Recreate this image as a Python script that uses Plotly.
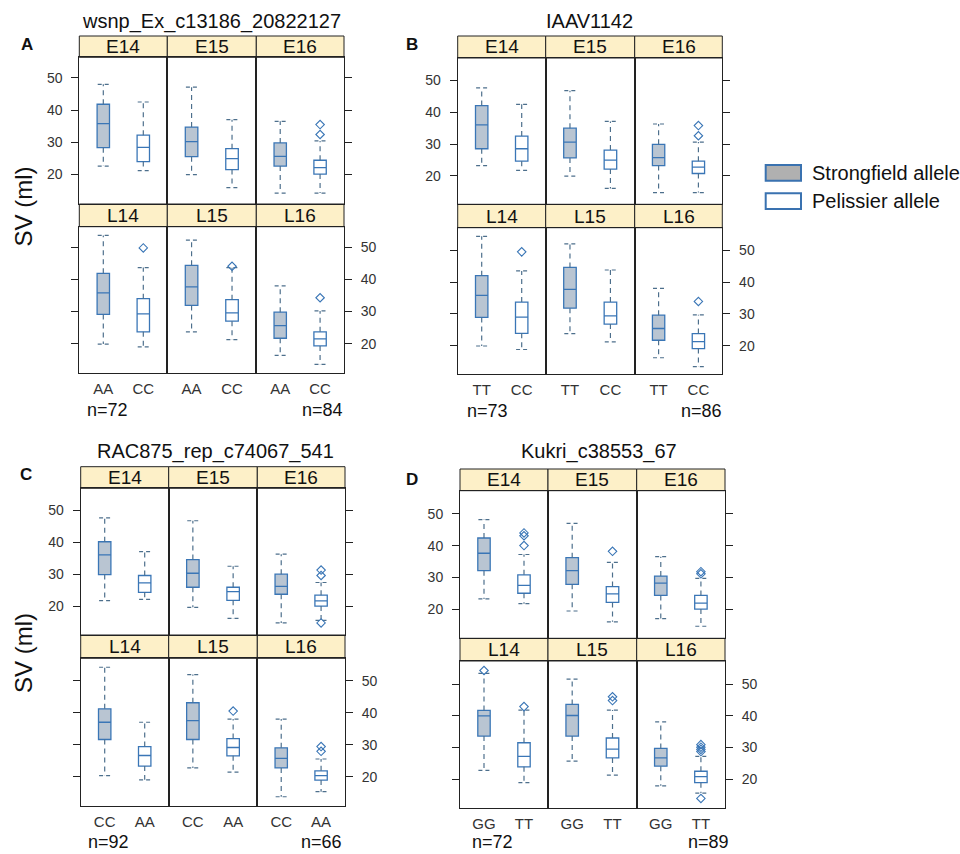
import plotly.graph_objects as go

# ---------------- data ----------------
ENVS = ["E14", "E15", "E16", "L14", "L15", "L16"]
ALLELES = ["Strongfield allele", "Pelissier allele"]
Y_TICKS = [20, 30, 40, 50]

# each box: [lower whisker, q1, median, q3, upper whisker], order E14,E15,E16,L14,L15,L16
A_TITLE = "wsnp_Ex_c13186_20822127"
A_GENO = ["AA", "CC"]
A_N = ["n=72", "n=84"]
A_STRONG = [[22.6, 28.3, 35.8, 41.8, 48.0],
            [19.9, 25.5, 30.2, 34.7, 47.1],
            [14.2, 22.6, 25.6, 29.8, 36.5],
            [19.9, 29.1, 35.8, 41.9, 53.7],
            [23.7, 31.9, 37.7, 44.4, 52.2],
            [16.4, 21.7, 25.6, 29.8, 38.0]]
A_PEL = [[21.2, 24.0, 28.4, 32.2, 42.5],
         [15.9, 21.5, 24.9, 28.0, 37.0],
         [14.2, 20.1, 22.1, 24.4, 30.4],
         [19.0, 23.7, 29.3, 34.0, 43.7],
         [21.3, 27.0, 29.6, 33.7, 43.7],
         [13.6, 19.3, 21.5, 23.7, 30.2]]
A_STRONG_OUT = [[], [], [], [], [], []]
A_PEL_OUT = [[], [], [35.5, 32.4], [49.8], [44.1], [34.3]]

B_TITLE = "IAAV1142"
B_GENO = ["TT", "CC"]
B_N = ["n=73", "n=86"]
B_STRONG = [[23.2, 28.5, 36.0, 42.1, 47.7],
            [19.9, 25.6, 30.6, 35.0, 46.8],
            [14.7, 23.2, 25.7, 29.9, 36.3],
            [19.9, 28.9, 35.8, 42.0, 54.4],
            [23.8, 31.8, 37.7, 44.6, 52.0],
            [16.2, 21.7, 25.4, 29.6, 38.0]]
B_PEL = [[21.7, 24.6, 28.5, 32.5, 42.5],
         [16.0, 22.1, 24.9, 28.1, 37.1],
         [14.7, 20.7, 22.7, 24.6, 30.6],
         [18.8, 23.9, 29.0, 33.7, 43.5],
         [21.2, 26.8, 29.4, 33.7, 43.8],
         [13.4, 19.1, 21.3, 23.8, 29.7]]
B_STRONG_OUT = [[], [], [], [], [], []]
B_PEL_OUT = [[], [], [35.8, 32.6], [49.5], [], [33.9]]

C_TITLE = "RAC875_rep_c74067_541"
C_GENO = ["CC", "AA"]
C_N = ["n=92", "n=66"]
C_STRONG = [[21.7, 29.9, 36.1, 40.2, 47.7],
            [19.6, 25.9, 30.3, 34.6, 46.8],
            [14.7, 23.7, 26.2, 30.0, 36.3],
            [20.3, 31.6, 37.0, 41.2, 54.2],
            [22.7, 31.6, 37.5, 43.1, 51.9],
            [13.7, 22.7, 25.7, 29.0, 38.0]]
C_PEL = [[22.1, 24.3, 27.3, 29.6, 37.1],
         [16.1, 21.8, 24.5, 25.9, 32.5],
         [15.5, 20.0, 21.6, 23.4, 27.4],
         [19.0, 23.3, 26.6, 29.4, 37.0],
         [21.4, 26.5, 29.1, 31.9, 38.0],
         [15.3, 18.9, 20.3, 21.8, 25.5]]
C_STRONG_OUT = [[], [], [], [], [], []]
C_PEL_OUT = [[], [], [31.3, 29.6, 14.7], [], [40.5], [29.4, 27.9]]

D_TITLE = "Kukri_c38553_67"
D_GENO = ["GG", "TT"]
D_N = ["n=72", "n=89"]
D_STRONG = [[23.2, 32.1, 37.6, 42.4, 48.2],
            [19.4, 27.8, 32.1, 36.2, 47.0],
            [17.0, 24.3, 28.2, 30.4, 36.5],
            [22.8, 33.6, 40.0, 41.7, 53.4],
            [25.7, 33.6, 40.1, 43.6, 51.6],
            [17.9, 24.1, 26.7, 29.7, 38.1]]
D_PEL = [[21.7, 25.0, 27.5, 30.8, 37.2],
         [16.0, 22.1, 24.8, 27.1, 34.7],
         [14.6, 20.0, 21.9, 24.3, 29.7],
         [18.9, 23.9, 27.2, 31.5, 41.8],
         [21.3, 26.7, 29.5, 33.0, 41.8],
         [15.6, 18.9, 20.8, 22.5, 27.2]]
D_STRONG_OUT = [[], [], [], [54.3], [], []]
D_PEL_OUT = [[44.0, 43.1, 40.0], [38.2], [31.8, 31.1], [42.9], [46.0, 44.8],
             [30.9, 30.1, 29.4, 28.7, 13.9]]

# ---------------- layout geometry (pixels) ----------------
W, H = 960, 854
FONT = "Liberation Sans, Arial, sans-serif"
PANELS = [
    dict(letter="A", title=A_TITLE, geno=A_GENO, n=A_N, strong=A_STRONG, pel=A_PEL,
         sout=A_STRONG_OUT, pout=A_PEL_OUT,
         gx=[79.3, 167.3, 256.3, 344.0], gy=[36.0, 57.3, 204.0, 226.7, 373.3],
         yr=[10.8, 56.4], tpos=(211.7, 21), lpos=(27, 45), npos=(86, 344, 410)),
    dict(letter="B", title=B_TITLE, geno=B_GENO, n=B_N, strong=B_STRONG, pel=B_PEL,
         sout=B_STRONG_OUT, pout=B_PEL_OUT,
         gx=[457.7, 545.7, 634.7, 722.3], gy=[36.0, 58.0, 204.3, 227.7, 374.3],
         yr=[11.0, 57.1], tpos=(589.2, 21), lpos=(412, 45), npos=(466, 723.3, 411)),
    dict(letter="C", title=C_TITLE, geno=C_GENO, n=C_N, strong=C_STRONG, pel=C_PEL,
         sout=C_STRONG_OUT, pout=C_PEL_OUT,
         gx=[80.7, 168.7, 257.3, 345.0], gy=[466.7, 488.3, 635.0, 658.3, 805.7],
         yr=[10.9, 57.0], tpos=(215, 451), lpos=(26, 475), npos=(87, 343, 842)),
    dict(letter="D", title=D_TITLE, geno=D_GENO, n=D_N, strong=D_STRONG, pel=D_PEL,
         sout=D_STRONG_OUT, pout=D_PEL_OUT,
         gx=[460.0, 548.0, 636.7, 725.0], gy=[469.0, 490.7, 638.3, 661.0, 808.3],
         yr=[10.8, 57.3], tpos=(598.8, 451), lpos=(412, 480), npos=(470.7, 730, 842)),
]

STRONG_FILL = "#b9c5d2"
PEL_FILL = "#ffffff"
BOX_LINE = "#3a76b6"
WHISK = "#4d6f8c"
STRIP = "#fdf0c8"
AX = "#222222"
BOX_W = 0.31
CAP = 0.14


def px(x):
    return x / W


def py(y):
    return 1 - y / H


fig = go.Figure()
layout = {}
shapes = []
ann = []
k = 0
for p in PANELS:
    gx, gy, yr = p["gx"], p["gy"], p["yr"]
    for ci, env in enumerate(ENVS):
        row, col = divmod(ci, 3)
        k += 1
        xr = "x" if k == 1 else f"x{k}"
        yrf = "y" if k == 1 else f"y{k}"
        x0, x1 = gx[col], gx[col + 1]
        if row == 0:
            s0, s1, p0, p1 = gy[0], gy[1], gy[1], gy[2]
        else:
            s0, s1, p0, p1 = gy[2], gy[3], gy[3], gy[4]
        layout["xaxis" if k == 1 else f"xaxis{k}"] = dict(
            domain=[px(x0), px(x1)], range=[0.4, 2.6], anchor=yrf,
            tickvals=[1, 2], ticktext=p["geno"], showticklabels=(row == 1),
            ticks="", showgrid=False, zeroline=False, showline=True, mirror=True,
            linecolor=AX, linewidth=1, tickfont=dict(size=15, color="#333333", family=FONT),
            ticklabelstandoff=2, fixedrange=True)
        yax = dict(
            domain=[py(p1), py(p0)], range=yr, anchor=xr, tickvals=Y_TICKS,
            showgrid=False, zeroline=False, showline=True, mirror=True,
            linecolor=AX, linewidth=1, tickfont=dict(size=14, color="#333333", family=FONT),
            fixedrange=True)
        if col == 0:
            yax.update(side="left", ticks="outside", ticklen=7, tickcolor=AX,
                       showticklabels=(row == 0), ticklabelstandoff=6)
        elif col == 2:
            yax.update(side="right", ticks="outside", ticklen=7, tickcolor=AX,
                       showticklabels=(row == 1), ticklabelstandoff=6)
        else:
            yax.update(ticks="", showticklabels=False)
        layout["yaxis" if k == 1 else f"yaxis{k}"] = yax

        # strip
        shapes.append(dict(type="rect", xref="paper", yref="paper",
                           x0=px(x0), x1=px(x1), y0=py(s1), y1=py(s0),
                           fillcolor=STRIP, line=dict(color=AX, width=1), layer="below"))
        ann.append(dict(text=env, x=px((x0 + x1) / 2), y=py((s0 + s1) / 2),
                        xref="paper", yref="paper", showarrow=False,
                        xanchor="center", yanchor="middle",
                        font=dict(size=19, color="#111111", family=FONT)))

        for j, (stats, outs) in enumerate([(p["strong"][ci], p["sout"][ci]),
                                            (p["pel"][ci], p["pout"][ci])]):
            pos = j + 1
            lw, q1, med, q3, uw = stats
            fig.add_trace(go.Box(
                x=[pos], q1=[q1], median=[med], q3=[q3], lowerfence=[q1], upperfence=[q3],
                width=BOX_W, whiskerwidth=0, boxpoints=False,
                fillcolor=STRONG_FILL if j == 0 else PEL_FILL,
                line=dict(color=BOX_LINE, width=1.3),
                xaxis=xr, yaxis=yrf, showlegend=False, hoverinfo="skip",
                name=ALLELES[j]))
            fig.add_trace(go.Scatter(
                x=[pos, pos, None, pos, pos], y=[q3, uw, None, q1, lw],
                mode="lines", line=dict(color=WHISK, width=1.2, dash="5px,4px"),
                xaxis=xr, yaxis=yrf, showlegend=False, hoverinfo="skip"))
            fig.add_trace(go.Scatter(
                x=[pos - CAP, pos + CAP, None, pos - CAP, pos + CAP],
                y=[uw, uw, None, lw, lw],
                mode="lines", line=dict(color=WHISK, width=1.2, dash="4px,3px"),
                xaxis=xr, yaxis=yrf, showlegend=False, hoverinfo="skip"))
            if outs:
                fig.add_trace(go.Scatter(
                    x=[pos] * len(outs), y=outs, mode="markers",
                    marker=dict(symbol="diamond-open", size=6.5, color=BOX_LINE,
                                line=dict(width=1.1, color=BOX_LINE)),
                    xaxis=xr, yaxis=yrf, showlegend=False, hoverinfo="skip"))

    # titles, letters, n labels, y title
    ann.append(dict(text=p["title"], x=px(p["tpos"][0]), y=py(p["tpos"][1]),
                    xref="paper", yref="paper", showarrow=False,
                    xanchor="center", yanchor="middle",
                    font=dict(size=20, color="#111111", family=FONT)))
    ann.append(dict(text="<b>" + p["letter"] + "</b>", x=px(p["lpos"][0]), y=py(p["lpos"][1]),
                    xref="paper", yref="paper", showarrow=False,
                    xanchor="center", yanchor="middle",
                    font=dict(size=17, color="#111111", family=FONT)))
    nl, nr, ny = p["npos"]
    ann.append(dict(text=p["n"][0], x=px(nl), y=py(ny), xref="paper", yref="paper",
                    showarrow=False, xanchor="left", yanchor="middle", borderpad=0,
                    font=dict(size=18, color="#111111", family=FONT)))
    ann.append(dict(text=p["n"][1], x=px(nr), y=py(ny), xref="paper", yref="paper",
                    showarrow=False, xanchor="right", yanchor="middle", borderpad=0,
                    font=dict(size=18, color="#111111", family=FONT)))

for yc in (206.5, 653):
    ann.append(dict(text="SV (ml)", x=px(23), y=py(yc), xref="paper", yref="paper",
                    showarrow=False, xanchor="center", yanchor="middle", textangle=-90,
                    font=dict(size=24, color="#111111", family=FONT)))

# legend
for j, (ytop, fill) in enumerate([(165.0, "#b0b0b0"), (193.3, "#ffffff")]):
    shapes.append(dict(type="rect", xref="paper", yref="paper",
                       x0=px(765.7), x1=px(801), y0=py(ytop + 15.7), y1=py(ytop),
                       fillcolor=fill, line=dict(color="#3a72b0", width=2)))
    ann.append(dict(text=ALLELES[j], x=px(810), y=py(ytop + 8), xref="paper", yref="paper",
                    showarrow=False, xanchor="left", yanchor="middle",
                    font=dict(size=20, color="#111111", family=FONT)))

fig.update_layout(width=W, height=H, margin=dict(l=0, r=0, t=0, b=0),
                  paper_bgcolor="white", plot_bgcolor="white",
                  shapes=shapes, annotations=ann, showlegend=False, **layout)
fig.write_html("out.html")
